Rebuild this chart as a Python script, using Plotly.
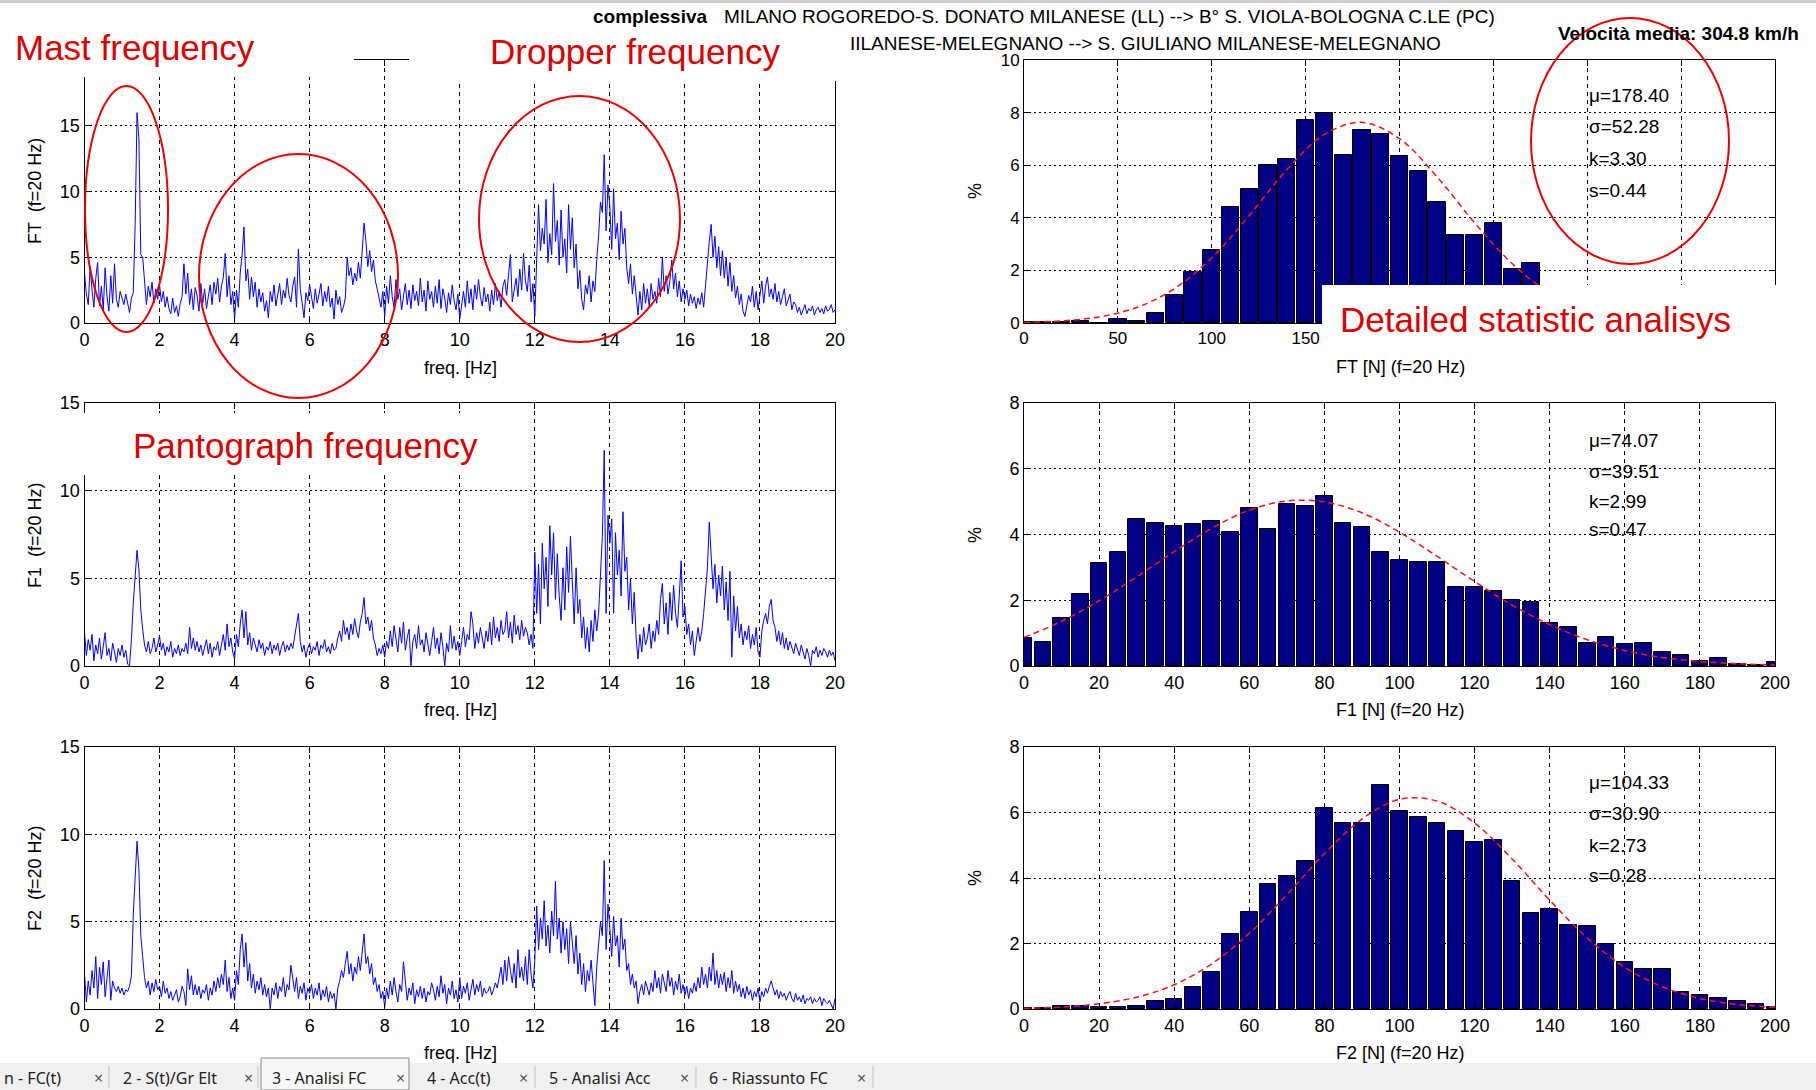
import numpy as np
import plotly.graph_objects as go

OFF = 0
FW, FH = 1816, 1090
FONT = "Liberation Sans, Arial, sans-serif"

# ---------------- data ----------------
FREQ_HZ = np.linspace(0, 20, 401)

FT_SPEC = [
    3.8, 2.2, 1.4, 4.3, 2.5, 1.2, 3.4, 4.6, 1.3, 2.8, 1.0, 4.2, 2.0, 0.9, 3.6, 1.5, 4.5, 1.8, 1.2, 2.4,
    1.9, 1.4, 2.2, 1.6, 0.8, 1.9, 2.3, 7.5, 16.0, 14.0, 5.2, 5.0, 3.2, 1.4, 2.8, 2.0, 3.1, 1.5, 2.6, 1.8,
    2.9, 1.6, 2.4, 1.2, 2.0, 1.1, 0.7, 1.9, 0.8, 1.3, 0.5, 1.5, 2.0, 4.5, 2.2, 3.8, 1.4, 2.6, 1.0, 2.7,
    2.1, 0.9, 3.0, 1.5, 2.6, 1.1, 2.0, 2.9, 1.4, 3.1, 2.2, 3.4, 1.6, 2.8, 3.5, 5.3, 2.0, 3.6, 1.4, 2.4,
    0.3, 2.5, 1.2, 3.8, 5.2, 7.3, 3.2, 4.1, 1.8, 3.5, 2.0, 3.1, 1.2, 2.6, 1.6, 2.3, 0.9, 1.7, 0.4, 2.4,
    1.6, 2.9, 1.3, 2.2, 3.0, 1.4, 2.5, 1.9, 3.4, 2.1, 1.6, 2.8, 3.5, 1.2, 5.6, 2.6, 1.5, 0.4, 2.3, 1.7,
    2.9, 1.8, 1.1, 2.6, 1.5, 2.2, 3.0, 1.3, 2.4, 1.6, 2.8, 1.2, 1.9, 0.3, 2.5, 1.4, 2.0, 0.8, 1.2, 1.9,
    5.0, 3.6, 4.2, 2.9, 3.8, 3.2, 4.6, 3.4, 5.4, 7.6, 6.2, 4.3, 5.5, 3.9, 4.8, 3.2, 2.6, 1.8, 1.2, 2.4,
    0.5, 2.8, 1.5, 3.6, 2.0, 1.2, 3.3, 1.8, 2.6, 1.0, 2.2, 3.0, 1.4, 2.5, 1.1, 2.9, 1.7, 2.4, 1.3, 3.4,
    1.6, 2.5, 0.9, 3.2, 1.8, 2.4, 1.2, 2.8, 1.5, 3.3, 1.1, 2.6, 1.9, 0.8, 2.3, 1.4, 2.9, 1.7, 1.0, 2.2,
    0.3, 1.6, 2.4, 1.2, 3.2, 1.5, 2.6, 1.0, 2.9, 1.8, 3.3, 2.0, 1.3, 2.7, 1.6, 2.2, 0.9, 2.5, 1.4, 3.0,
    1.7, 2.4, 1.2, 2.8, 3.3, 2.1, 3.8, 5.2, 1.6, 2.6, 3.4, 2.0, 4.1, 2.5, 5.3, 3.2, 2.4, 4.4, 1.6, 3.0,
    0.5, 4.8, 9.0, 5.5, 7.2, 6.0, 9.4, 4.6, 6.8, 5.2, 10.6, 6.2, 7.8, 4.4, 8.6, 5.0, 6.4, 3.8, 9.0, 5.6,
    8.0, 4.2, 6.0, 2.6, 4.0, 1.8, 1.0, 2.9, 2.2, 3.6, 1.6, 3.2, 2.4, 4.8, 6.6, 9.2, 8.4, 12.8, 7.0, 10.5,
    8.8, 5.6, 10.2, 6.4, 7.6, 4.8, 8.5, 6.0, 7.2, 4.2, 3.0, 4.5, 2.2, 3.6, 1.8, 0.6, 2.4, 1.0, 3.0, 1.5,
    2.6, 1.2, 3.0, 1.8, 2.4, 1.5, 3.4, 2.0, 5.0, 2.4, 3.6, 2.2, 3.2, 4.8, 2.6, 3.8, 2.0, 3.2, 1.6, 2.6,
    1.8, 2.5, 1.3, 2.2, 1.5, 2.0, 1.1, 1.9, 1.4, 2.3, 1.2, 3.0, 4.6, 6.2, 7.5, 5.0, 6.6, 4.2, 5.8, 3.6,
    5.5, 3.4, 5.0, 2.8, 4.6, 2.4, 3.6, 1.9, 2.8, 1.4, 2.2, 0.9, 0.5, 1.3, 2.1, 1.6, 2.8, 1.2, 2.4, 1.0,
    2.2, 3.2, 1.5, 2.8, 3.5, 2.0, 2.6, 1.8, 3.0, 1.6, 2.4, 1.4, 2.0, 2.6, 1.3, 1.8, 2.2, 1.0, 1.6, 1.4,
    0.8, 1.2, 0.6, 1.0, 1.4, 0.7, 1.1, 0.9, 1.3, 0.6, 1.0, 1.2, 0.8, 1.1, 0.7, 1.3, 0.9, 1.0, 1.4, 0.8,
    1.0,
]

F1_SPEC = [
    1.9, 0.6, 1.5, 0.9, 1.8, 0.3, 1.2, 0.7, 1.6, 0.4, 1.1, 1.9, 0.6, 1.0, 0.3, 1.3, 0.8, 0.2, 1.0, 0.6,
    1.2, 0.5, 0.9, 0.1, 0.0, 1.5, 3.6, 5.2, 6.6, 5.5, 3.2, 2.1, 1.2, 0.8, 1.4, 0.7, 1.0, 1.6, 0.8, 1.2,
    1.7, 0.9, 1.3, 0.6, 1.1, 0.8, 1.4, 0.5, 1.0, 0.7, 1.2, 0.6, 1.0, 0.8, 1.3, 0.7, 2.2, 1.0, 1.6, 0.9,
    1.4, 0.8, 1.2, 0.6, 1.0, 1.5, 0.7, 1.3, 0.5, 1.1, 0.9, 1.4, 0.6, 1.2, 1.8, 0.9, 2.4, 1.1, 1.6, 0.8,
    0.4, 1.8, 1.1, 2.4, 3.2, 1.6, 3.1, 1.2, 1.9, 0.9, 1.6, 1.2, 0.8, 1.5, 1.0, 1.3, 0.6, 1.1, 0.9, 1.4,
    0.7, 1.2, 0.9, 1.3, 0.6, 1.1, 1.4, 0.8, 1.2, 0.9, 1.3, 1.0, 1.6, 2.2, 3.0, 1.4, 0.8, 1.2, 0.5, 1.0,
    1.3, 0.7, 1.1, 0.9, 1.4, 0.6, 1.2, 1.0, 1.5, 0.8, 1.1, 0.7, 1.3, 0.9, 1.0, 1.6, 2.0, 1.4, 2.6, 1.8,
    2.2, 1.5, 2.4, 1.8, 2.7, 2.0, 1.6, 2.5, 3.0, 3.9, 2.4, 2.8, 2.0, 2.6, 1.6, 1.2, 0.6, 1.0, 0.7, 1.2,
    0.5, 1.4, 1.0, 2.0, 1.1, 2.3, 1.5, 0.8, 2.2, 1.3, 2.5, 0.9, 1.6, 2.1, 0.0, 1.4, 1.8, 1.0, 2.3, 1.2,
    1.5, 0.8, 1.9, 1.2, 0.6, 1.4, 2.2, 1.0, 1.6, 0.7, 1.9, 1.1, 0.0, 1.3, 0.8, 2.3, 1.0, 1.7, 0.9, 1.4,
    0.6, 1.4, 2.2, 1.1, 1.8, 1.5, 3.1, 2.4, 1.0, 1.9, 1.3, 2.2, 1.6, 1.0, 2.0, 1.4, 2.5, 1.2, 2.8, 1.6,
    2.2, 1.4, 2.6, 1.8, 2.0, 3.1, 1.6, 2.5, 1.3, 2.9, 1.8, 2.3, 1.5, 2.6, 1.7, 2.2, 1.9, 1.2, 1.8, 1.0,
    6.5, 3.0, 5.8, 2.4, 7.0, 4.4, 6.2, 3.4, 8.0, 5.2, 7.6, 3.8, 6.4, 4.0, 2.6, 5.6, 3.2, 6.8, 4.2, 7.4,
    4.8, 2.4, 5.6, 3.0, 3.8, 1.6, 2.8, 1.0, 2.2, 0.8, 2.6, 1.4, 3.2, 2.0, 3.0, 5.2, 7.4, 12.3, 3.0, 8.6,
    7.0, 8.4, 3.0, 7.6, 5.2, 6.6, 4.0, 8.8, 5.4, 6.2, 3.2, 5.0, 2.4, 4.2, 1.6, 0.4, 1.8, 0.8, 2.2, 1.2,
    1.6, 2.4, 1.0, 2.0, 1.4, 2.6, 1.8, 3.8, 4.7, 2.4, 3.6, 1.8, 4.2, 2.6, 4.6, 3.0, 2.2, 4.0, 6.0, 2.8,
    3.4, 1.8, 2.4, 1.2, 2.0, 0.6, 1.6, 2.2, 1.4, 2.0, 3.0, 4.6, 5.6, 8.2, 6.2, 4.4, 5.8, 3.6, 5.2, 4.0,
    5.7, 3.2, 4.8, 2.6, 5.4, 0.5, 4.0, 2.0, 3.4, 1.6, 2.4, 1.2, 2.0, 1.5, 2.3, 1.0, 1.8, 1.2, 2.2, 0.8,
    0.5, 2.0, 2.6, 3.0, 2.4, 3.4, 3.8, 2.6, 2.2, 1.4, 2.0, 1.2, 1.9, 1.0, 1.6, 0.9, 1.4, 1.1, 0.7, 1.3,
    1.0, 0.6, 1.2, 0.8, 0.4, 1.0, 0.6, 0.0, 0.9, 0.7, 1.1, 0.5, 0.9, 0.6, 1.0, 0.8, 0.5, 0.9, 0.6, 0.8,
    0.3,
]

F2_SPEC = [
    2.0, 0.4, 1.6, 0.8, 2.2, 1.2, 3.0, 0.6, 2.4, 1.4, 2.7, 0.7, 1.8, 2.8, 0.5, 1.6, 1.2, 1.0, 1.3, 0.9,
    1.2, 0.8, 1.1, 1.0, 1.3, 1.9, 5.4, 7.8, 9.6, 8.0, 4.2, 3.0, 1.8, 1.2, 1.6, 0.8, 1.5, 1.0, 1.7, 1.1,
    1.3, 0.7, 1.6, 0.9, 1.2, 0.6, 1.0, 0.5, 0.8, 1.1, 0.4, 0.7, 1.3, 1.0, 0.2, 2.3, 1.1, 1.9, 0.8, 1.4,
    0.8, 1.3, 0.6, 1.1, 0.9, 1.4, 0.5, 1.2, 0.8, 1.6, 1.0, 1.8, 1.2, 2.0, 1.4, 2.8, 1.0, 1.8, 0.6, 1.2,
    0.5, 2.2, 1.4, 3.4, 4.3, 2.4, 3.8, 1.6, 2.6, 1.2, 2.0, 0.9, 1.6, 1.1, 1.8, 0.8, 1.4, 0.7, 1.2, 0.0,
    1.2, 0.8, 1.5, 0.6, 1.3, 1.0, 1.8, 0.7, 1.4, 1.1, 2.5, 1.6, 1.0, 1.8, 0.6, 1.3, 0.9, 1.5, 0.5, 1.2,
    0.9, 1.4, 0.6, 1.2, 0.8, 1.5, 0.5, 1.1, 0.7, 1.3, 0.4, 1.0, 0.6, 0.9, 0.0, 1.2, 1.6, 2.2, 1.8, 2.6,
    3.3, 2.0, 2.6, 1.6, 2.4, 2.0, 3.0, 2.2, 3.5, 4.3, 2.6, 3.0, 2.0, 2.6, 1.4, 1.8, 1.0, 1.4, 0.6, 1.0,
    0.1, 1.2, 0.6, 1.6, 0.8, 1.8, 1.0, 0.4, 1.4, 1.0, 2.7, 1.6, 0.5, 1.2, 0.8, 1.5, 0.3, 1.1, 0.7, 1.3,
    0.6, 1.2, 0.4, 1.0, 0.8, 1.5, 1.1, 0.5, 1.3, 0.7, 1.9, 0.9, 1.4, 0.3, 1.2, 0.8, 1.6, 0.6, 1.1, 0.4,
    1.8, 0.6, 1.3, 0.9, 1.5, 0.5, 1.2, 1.7, 0.8, 1.4, 1.0, 1.6, 0.7, 1.2, 0.9, 1.0, 1.3, 0.8, 1.1, 1.5,
    1.2, 1.8, 2.4, 1.4, 2.8, 1.6, 3.0, 2.2, 1.5, 2.6, 1.2, 3.4, 1.8, 2.4, 1.6, 3.0, 1.4, 3.4, 2.0, 1.2,
    2.8, 5.9, 3.4, 5.2, 4.0, 6.2, 3.6, 4.8, 3.2, 5.6, 4.2, 7.3, 4.0, 5.2, 3.2, 5.0, 3.4, 4.6, 2.6, 5.0,
    3.8, 2.6, 4.2, 2.0, 3.2, 1.4, 2.6, 1.0, 2.2, 1.6, 2.8, 1.2, 0.2, 2.4, 3.8, 5.0, 4.2, 8.5, 3.4, 6.0,
    4.6, 3.0, 5.3, 3.6, 4.2, 2.4, 5.2, 3.4, 4.0, 2.2, 2.6, 1.4, 2.0, 1.2, 1.6, 0.3, 1.0, 1.4, 0.8, 1.6,
    1.2, 0.8, 1.5, 1.0, 2.2, 1.2, 1.8, 0.9, 2.0, 1.4, 1.0, 2.2, 1.3, 1.8, 0.8, 1.6, 1.1, 2.0, 0.9, 1.4,
    0.8, 1.3, 0.6, 1.2, 0.9, 1.5, 1.0, 1.8, 1.2, 2.4, 1.4, 2.0, 1.2, 2.4, 1.6, 3.2, 1.4, 2.2, 1.2, 2.0,
    1.4, 2.1, 1.0, 1.8, 1.2, 2.2, 0.9, 1.6, 1.0, 1.4, 0.7, 1.2, 0.6, 1.3, 0.8, 1.1, 0.5, 1.0, 0.7, 1.2,
    0.4, 1.0, 0.7, 1.2, 0.9, 1.3, 1.6, 1.2, 0.8, 1.1, 0.6, 1.0, 0.7, 0.9, 0.5, 0.8, 1.0, 0.6, 0.4, 0.9,
    0.5, 0.7, 0.4, 0.8, 0.3, 0.6, 0.5, 0.7, 0.3, 0.6, 0.4, 0.5, 0.7, 0.2, 0.6, 0.4, 0.3, 0.5, 0.2, 0.0,
    0.6,
]

FT_BINS = list(range(0, 330, 10))
FT_PCT = [0.05, 0.03, 0.02, 0.08, 0.0, 0.17, 0.08, 0.38, 1.08, 1.95, 2.78, 4.42, 5.08, 6.0, 6.25,
          7.72, 7.99, 6.37, 7.32, 7.2, 6.35, 5.78, 4.6, 3.33, 3.33, 3.82, 2.05, 2.27, 1.2, 0.7, 0.4,
          0.2, 0.1]
FT_FIT_X = list(range(0, 420, 20))
FT_FIT_Y = [0.02, 0.08, 0.23, 0.59, 1.30, 2.48, 4.09, 5.83, 7.17, 7.63, 7.01, 5.56, 3.81, 2.26,
            1.15, 0.51, 0.20, 0.06, 0.02, 0.005, 0.001]

F_BINS = list(range(0, 205, 5))
F1_PCT = [0.86, 0.74, 1.47, 2.18, 3.13, 3.46, 4.46, 4.35, 4.27, 4.31, 4.40, 4.07, 4.81, 4.17, 4.93,
          4.88, 5.16, 4.35, 4.22, 3.46, 3.22, 3.17, 3.17, 2.40, 2.40, 2.29, 2.00, 1.94, 1.32, 1.18,
          0.71, 0.89, 0.66, 0.71, 0.43, 0.33, 0.15, 0.25, 0.05, 0.03, 0.13]
F2_PCT = [0.03, 0.02, 0.08, 0.10, 0.05, 0.05, 0.10, 0.25, 0.30, 0.67, 1.12, 2.30, 2.96, 3.82, 4.06,
          4.53, 6.15, 5.67, 5.67, 6.83, 6.05, 5.86, 5.67, 5.43, 5.10, 5.15, 3.92, 2.92, 3.05, 2.58,
          2.52, 1.97, 1.45, 1.22, 1.22, 0.52, 0.43, 0.33, 0.23, 0.15, 0.07]
F_FIT_X = list(range(0, 210, 10))
F1_FIT_Y = [0.87, 1.36, 1.98, 2.71, 3.48, 4.19, 4.74, 5.02, 4.99, 4.66, 4.07, 3.34, 2.57, 1.85,
            1.26, 0.80, 0.47, 0.26, 0.14, 0.07, 0.03]
F2_FIT_Y = [0.02, 0.06, 0.16, 0.36, 0.74, 1.38, 2.31, 3.49, 4.74, 5.80, 6.40, 6.35, 5.68, 4.58,
            3.32, 2.17, 1.27, 0.68, 0.32, 0.14, 0.05]

# tick labels (top-left y axis and top-right x axis are partly covered in the original slide)
FT_Y_TICKS = [0, 5, 10, 15, 20]
FT_Y_LABELS = ["0", "5", "10", "15", ""]
FT_X_TICKS = [0, 50, 100, 150, 200, 250, 300, 350, 400]
FT_X_LABELS = ["0", "50", "100", "150", "", "", "", "", ""]

STATS_FT = ["μ=178.40", "σ=52.28", "k=3.30", "s=0.44"]
STATS_F1 = ["μ=74.07", "σ=39.51", "k=2.99", "s=0.47"]
STATS_F2 = ["μ=104.33", "σ=30.90", "k=2.73", "s=0.28"]

TABS = ["n - FC(t)", "2 - S(t)/Gr Elt", "3 - Analisi FC", "4 - Acc(t)", "5 - Analisi Acc", "6 - Riassunto FC"]


# ---------------- helpers (screen pixel -> paper) ----------------
def px(x):
    return (x - OFF) / FW


def py(y):
    return 1 - (y - OFF) / FH


fig = go.Figure()

BLUE = "#0000ff"
NAVY = "#000084"

fig.add_trace(go.Scatter(x=FREQ_HZ, y=FT_SPEC, mode="lines", line=dict(color=BLUE, width=1),
                         xaxis="x", yaxis="y", showlegend=False))
fig.add_trace(go.Scatter(x=FREQ_HZ, y=F1_SPEC, mode="lines", line=dict(color=BLUE, width=1),
                         xaxis="x3", yaxis="y3", showlegend=False))
fig.add_trace(go.Scatter(x=FREQ_HZ, y=F2_SPEC, mode="lines", line=dict(color=BLUE, width=1),
                         xaxis="x5", yaxis="y5", showlegend=False))

bar_line = dict(color="black", width=1)
fig.add_trace(go.Bar(x=FT_BINS, y=FT_PCT, width=9.2, marker=dict(color=NAVY, line=bar_line),
                     xaxis="x2", yaxis="y2", showlegend=False))
fig.add_trace(go.Bar(x=F_BINS, y=F1_PCT, width=4.4, marker=dict(color=NAVY, line=bar_line),
                     xaxis="x4", yaxis="y4", showlegend=False))
fig.add_trace(go.Bar(x=F_BINS, y=F2_PCT, width=4.4, marker=dict(color=NAVY, line=bar_line),
                     xaxis="x6", yaxis="y6", showlegend=False))

fit_line = dict(color="#ff1010", width=1.5, dash="6px,4px", shape="spline")
fig.add_trace(go.Scatter(x=FT_FIT_X, y=FT_FIT_Y, mode="lines", line=fit_line,
                         xaxis="x2", yaxis="y2", showlegend=False))
fig.add_trace(go.Scatter(x=F_FIT_X, y=F1_FIT_Y, mode="lines", line=fit_line,
                         xaxis="x4", yaxis="y4", showlegend=False))
fig.add_trace(go.Scatter(x=F_FIT_X, y=F2_FIT_Y, mode="lines", line=fit_line,
                         xaxis="x6", yaxis="y6", showlegend=False))


def axis(domain, rng, dtick, anchor, size=18, grid_dash="4px,4px", tickvals=None, ticktext=None):
    d = dict(domain=domain, range=rng, dtick=dtick, tick0=0, anchor=anchor,
             showline=True, linecolor="black", linewidth=1, mirror="ticks",
             ticks="inside", ticklen=6, tickcolor="black", automargin=False,
             showgrid=True, gridcolor="black", gridwidth=1, griddash=grid_dash,
             zeroline=False, fixedrange=True,
             tickfont=dict(family=FONT, size=size, color="black"))
    if tickvals is not None:
        d.update(tickmode="array", tickvals=tickvals, ticktext=ticktext)
    return d


XL = [px(84.5), px(835)]
XR = [px(1024), px(1775)]
ROW1 = [py(323), py(60)]
ROW2 = [py(666), py(403)]
ROW3 = [py(1009), py(747)]

layout = dict(
    width=FW, height=FH, autosize=False,
    margin=dict(l=0, r=0, t=0, b=0, pad=0, autoexpand=False),
    paper_bgcolor="white", plot_bgcolor="white", showlegend=False, bargap=0,
    xaxis=axis(XL, [0, 20], 2, "y"),
    yaxis=axis(ROW1, [0, 20], 5, "x", grid_dash="2px,3px", tickvals=FT_Y_TICKS, ticktext=FT_Y_LABELS),
    xaxis2=axis(XR, [0, 400], 50, "y2", size=17, tickvals=FT_X_TICKS, ticktext=FT_X_LABELS),
    yaxis2=axis(ROW1, [0, 10], 2, "x2", size=17, grid_dash="2px,3px"),
    xaxis3=axis(XL, [0, 20], 2, "y3"),
    yaxis3=axis(ROW2, [0, 15], 5, "x3", grid_dash="2px,3px"),
    xaxis4=axis(XR, [0, 200], 20, "y4"),
    yaxis4=axis(ROW2, [0, 8], 2, "x4", grid_dash="2px,3px"),
    xaxis5=axis(XL, [0, 20], 2, "y5"),
    yaxis5=axis(ROW3, [0, 15], 5, "x5", grid_dash="2px,3px"),
    xaxis6=axis(XR, [0, 200], 20, "y6"),
    yaxis6=axis(ROW3, [0, 8], 2, "x6", grid_dash="2px,3px"),
)
fig.update_layout(**layout)

ann = []


def text(s, x, y, size, color="black", xanchor="center", yanchor="middle", angle=0,
         family=FONT, bold=False):
    if bold:
        s = "<b>" + s + "</b>"
    ann.append(dict(text=s, x=px(x), y=py(y), xref="paper", yref="paper", showarrow=False,
                    xanchor=xanchor, yanchor=yanchor, textangle=angle,
                    font=dict(family=family, size=size, color=color)))


# axis titles
text("FT  (f=20 Hz)", 35, 191, 18, angle=-90)
text("F1  (f=20 Hz)", 35, 535, 18, angle=-90)
text("F2  (f=20 Hz)", 35, 878, 18, angle=-90)
for yc in (191, 535, 878):
    text("%", 975, yc, 18, angle=-90)
text("freq. [Hz]", 460, 368, 18)
text("freq. [Hz]", 460, 710, 18)
text("freq. [Hz]", 460, 1053, 18)
text("FT [N] (f=20 Hz)", 1400, 367, 18)
text("F1 [N] (f=20 Hz)", 1400, 710, 18)
text("F2 [N] (f=20 Hz)", 1400, 1053, 18)

# statistics
for lines, ys in ((STATS_FT, (95, 126, 158, 190)),
                  (STATS_F1, (440, 471, 501, 529)),
                  (STATS_F2, (782, 813, 845, 875))):
    for s, yy in zip(lines, ys):
        text(s, 1587, yy, 19, xanchor="left")

# header
text("complessiva", 591, 16, 19, xanchor="left", bold=True)
text("MILANO ROGOREDO-S. DONATO MILANESE (LL) --> B° S. VIOLA-BOLOGNA C.LE (PC)", 722, 16, 19,
     xanchor="left")
text("IILANESE-MELEGNANO --> S. GIULIANO MILANESE-MELEGNANO", 848, 43, 19, xanchor="left")
text("Velocità media: 304.8 km/h", 1801, 34, 19, xanchor="right", bold=True)

# red labels
RED = "#dd0000"
text("Mast frequency", 13, 47, 35, color=RED, xanchor="left")
text("Dropper frequency", 488, 51, 35, color=RED, xanchor="left")
text("Pantograph frequency", 131, 445, 35, color=RED, xanchor="left")
text("Detailed statistic analisys", 1338, 319, 35, color=RED, xanchor="left")

# tab bar
TAB_X = [2, 121, 270, 425, 547, 707]
CLOSE_X = [98, 248, 400, 523, 684, 861]
SEP_X = [109, 258, 535, 696, 873]
for label, tx in zip(TABS, TAB_X):
    text(label, tx, 1078, 16, color="#222222", xanchor="left", family="Noto Sans, Open Sans, sans-serif")
for cx in CLOSE_X:
    text("×", cx, 1078, 16, color="#555555", family="Noto Sans, sans-serif")

fig.update_layout(annotations=ann)

shapes = []


def rect(x0, y0, x1, y1, fill="white", line_color=None, lw=0):
    shapes.append(dict(type="rect", xref="paper", yref="paper", x0=px(x0), x1=px(x1),
                       y0=py(y1), y1=py(y0), fillcolor=fill, layer="above",
                       line=dict(color=line_color or fill, width=lw)))


def ellipse(x0, y0, x1, y1):
    shapes.append(dict(type="circle", xref="paper", yref="paper", x0=px(x0), x1=px(x1),
                       y0=py(y1), y1=py(y0), layer="above",
                       line=dict(color="#ee0000", width=2)))


# white cover boxes (slide overlays)
rect(0, 3, 354, 77)
rect(409, 23, 852, 81)
rect(1322, 285, 1810, 345)
rect(40, 413, 490, 475)
# top border
rect(0, 0, FW, 3, fill="#cfcfcf")
# tab bar
rect(0, 1063, FW, FH, fill="#f0f0f0")
rect(261, 1058, 409, FH, fill="#f7f7f7", line_color="#8a8a8a", lw=1)
for sx in SEP_X:
    shapes.append(dict(type="line", xref="paper", yref="paper", x0=px(sx), x1=px(sx),
                       y0=py(1088), y1=py(1066), layer="above",
                       line=dict(color="#c0c0c0", width=1)))

# red ellipses
ellipse(85, 86, 168, 332)
ellipse(199, 154, 398, 398)
ellipse(479, 96, 680, 342)
ellipse(1531, 18, 1729, 264)

fig.update_layout(shapes=shapes)

fig.write_html("out.html")
